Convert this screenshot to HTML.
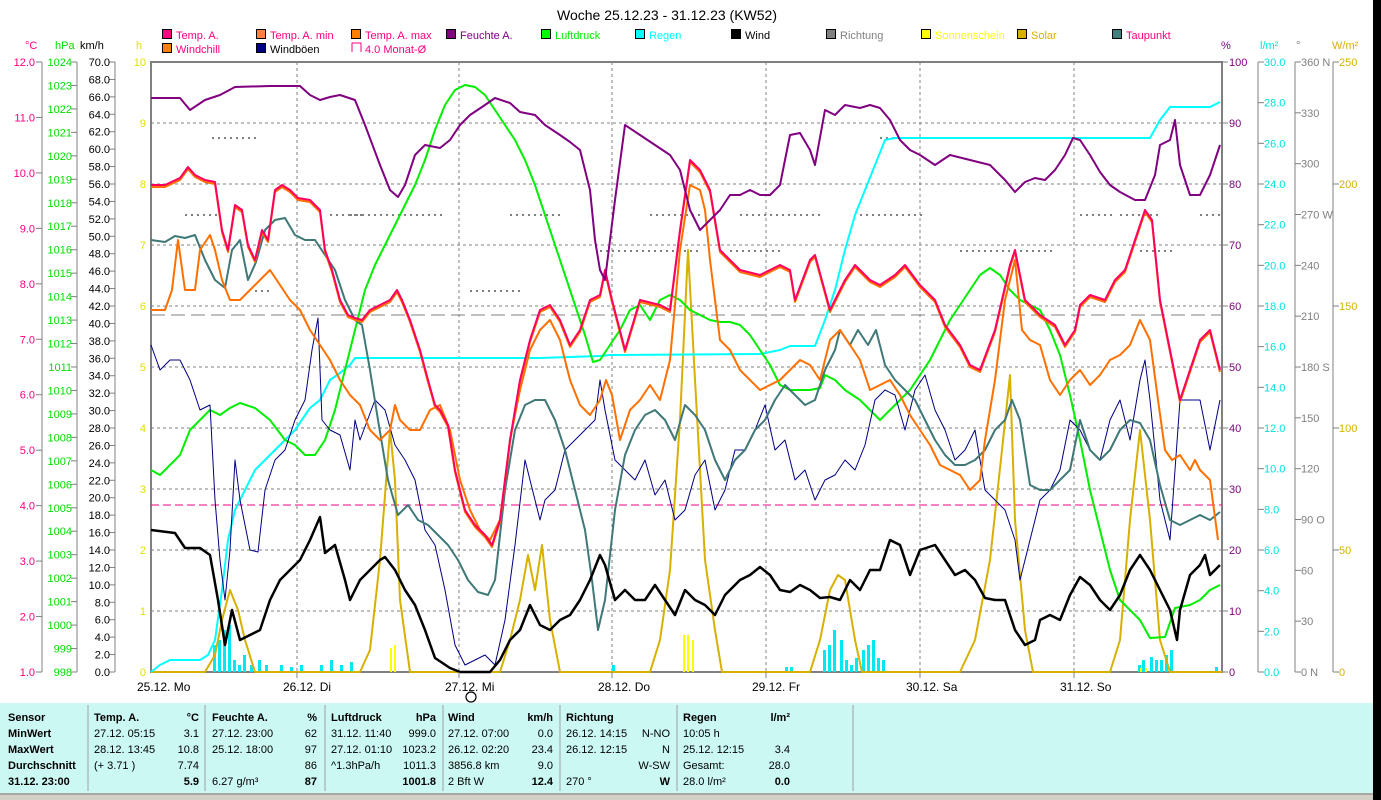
<!DOCTYPE html>
<html><head><meta charset="utf-8"><style>
body{margin:0;background:#fff;width:1381px;height:800px;overflow:hidden;font-family:"Liberation Sans",sans-serif}
svg text{font-family:"Liberation Sans",sans-serif}
</style></head><body>
<svg id="s" width="1381" height="800" xmlns="http://www.w3.org/2000/svg" style="position:absolute;left:0;top:0">
<rect x="1373" y="0" width="8" height="800" fill="#000"/>
<text x="667" y="20" font-size="14" text-anchor="middle" fill="#000">Woche 25.12.23 - 31.12.23 (KW52)</text>
<g id="grid"></g>
<g id="axes" font-size="11"></g>
<g id="legend" font-size="11"></g>
<!-- horizontal refs -->
<line x1="151" y1="505" x2="1222" y2="505" stroke="#ff0080" stroke-dasharray="8,4" stroke-width="1"/>
<line x1="151" y1="315" x2="1222" y2="315" stroke="#808080" stroke-dasharray="14,6" stroke-width="1"/>
<g id="dots" fill="#808080"></g>
<g id="bars"></g>
<g fill="none" stroke-linejoin="round">
<polyline id="solar" stroke="#d8b000" stroke-width="2" points="151,672 205,672 215,655 222,620 230,590 238,610 245,640 255,672 360,672 370,650 380,560 390,430 395,480 400,600 410,672 500,672 510,640 520,600 528,555 535,590 542,545 550,620 560,672 650,672 660,640 670,570 680,420 688,250 695,380 705,560 715,630 722,672 810,672 820,640 830,590 838,575 845,580 855,640 862,672 960,672 975,640 990,560 1002,450 1010,375 1015,520 1025,630 1033,672 1110,672 1120,640 1130,520 1140,430 1150,520 1160,640 1170,672 1222,672"/>
<polyline stroke="#00ffff" stroke-width="2" points="151,672 160,665 170,660 200,660 208,655 215,640 222,590 228,540 235,510 245,490 255,470 265,460 280,445 295,430 310,408 320,400 330,380 340,373 350,365 355,358 540,358 600,356 610,355 760,354 780,350 790,346 815,346 825,320 835,290 845,250 855,215 865,190 875,165 885,140 895,138 1150,138 1160,120 1170,107 1210,107 1220,102"/>
<polyline stroke="#00ee00" stroke-width="2" points="151,470 160,475 170,465 180,455 190,430 200,420 210,410 220,415 230,408 240,403 255,408 270,420 285,440 295,445 305,455 315,455 325,440 335,410 345,370 355,330 365,290 375,265 385,245 395,225 405,205 415,185 425,160 435,130 445,105 455,90 465,85 475,87 485,95 495,110 505,125 515,140 525,160 535,185 545,215 555,245 565,275 575,305 585,335 593,362 600,360 610,345 620,330 630,310 640,305 650,320 660,300 670,295 680,300 690,310 700,315 710,320 720,322 730,322 740,325 750,335 760,350 770,365 780,385 790,390 800,390 810,390 820,388 825,375 835,380 845,390 860,400 880,420 890,410 900,400 910,390 920,375 930,360 940,340 950,320 960,305 970,290 980,275 990,268 1000,275 1010,290 1020,300 1030,305 1040,310 1050,330 1060,355 1070,395 1080,440 1090,490 1100,530 1110,570 1120,600 1130,610 1140,620 1150,638 1165,637 1175,608 1190,605 1200,600 1210,590 1220,585"/>
<polyline stroke="#000080" stroke-width="1" points="151,345 160,370 170,360 180,360 190,380 200,410 210,405 215,500 220,560 225,600 230,550 235,460 240,500 250,550 258,552 265,490 275,460 285,450 295,420 305,400 312,350 318,318 322,420 330,430 340,435 350,470 355,420 360,440 375,400 385,410 395,445 405,460 415,480 425,530 435,545 445,590 455,645 465,665 475,660 485,655 495,665 505,620 515,545 525,460 535,500 540,520 545,500 555,490 565,450 575,440 585,430 595,420 600,380 605,410 615,460 625,470 635,480 645,460 655,495 665,480 675,520 685,510 695,475 705,460 715,510 725,490 735,450 745,450 755,430 765,405 775,450 785,440 795,480 805,470 815,500 825,480 835,475 845,460 855,470 865,445 875,400 885,390 895,395 905,430 915,390 925,375 935,410 945,430 955,460 965,450 975,430 985,490 995,500 1005,510 1015,540 1020,580 1030,540 1040,500 1050,490 1060,470 1070,420 1080,430 1090,450 1100,460 1110,420 1120,400 1130,440 1140,380 1145,360 1150,400 1160,500 1170,540 1180,400 1190,400 1200,400 1210,450 1220,400"/>
<polyline stroke="#407878" stroke-width="2" points="151,240 165,242 175,236 185,238 195,235 205,260 215,280 225,288 232,250 240,240 248,280 256,262 265,230 275,220 285,218 295,235 305,240 315,240 325,255 335,270 345,300 355,320 362,325 370,370 378,420 388,480 398,515 408,505 418,520 428,525 438,535 448,545 458,560 468,580 478,592 488,595 495,580 505,490 515,430 525,405 535,400 545,400 555,420 565,450 575,490 585,530 592,580 598,630 605,600 615,510 625,455 635,430 645,415 655,410 665,420 675,440 685,405 695,415 705,430 715,460 725,480 735,460 745,450 755,430 765,420 775,400 785,385 795,395 805,405 815,400 825,370 835,350 840,330 850,345 858,330 868,345 876,330 885,365 895,380 905,390 915,400 925,420 935,440 945,455 955,465 965,465 975,460 985,450 995,430 1005,420 1012,400 1020,420 1030,485 1040,490 1050,490 1060,480 1070,470 1080,420 1090,450 1100,460 1110,450 1120,430 1130,420 1140,423 1150,440 1160,485 1170,520 1180,525 1190,520 1200,515 1210,520 1220,512"/>
<polyline stroke="#ff7000" stroke-width="2" points="151,310 165,310 172,290 178,240 185,290 195,290 200,250 210,235 215,250 222,280 230,300 240,300 250,290 260,280 270,270 280,285 290,300 300,310 310,330 320,345 330,360 340,380 350,395 360,405 370,430 380,440 390,430 395,405 400,420 410,430 420,430 430,410 440,405 450,430 460,480 470,510 480,530 490,540 500,520 510,440 520,390 530,350 540,330 550,320 560,340 570,380 580,405 590,415 600,400 606,380 612,395 620,440 630,410 640,400 650,385 660,400 670,360 680,250 690,185 700,190 705,210 710,260 720,340 730,350 740,370 750,380 760,390 770,385 780,380 790,370 800,360 810,365 820,380 830,340 840,330 850,345 860,360 870,390 880,385 890,380 900,395 910,415 920,430 930,445 940,465 950,470 960,475 970,490 980,480 985,440 995,380 1005,300 1015,260 1022,330 1030,340 1040,345 1050,380 1060,395 1070,380 1080,370 1090,385 1100,375 1110,360 1120,355 1130,345 1140,320 1150,340 1158,400 1165,450 1172,460 1180,455 1190,470 1195,460 1200,470 1210,480 1218,540"/>
<polyline stroke="#ff7000" stroke-width="2" transform="translate(0,2)" points="151,185 165,185 180,178 188,167 195,175 205,180 215,182 222,230 228,250 235,205 242,210 248,245 255,260 262,230 268,240 275,190 282,185 290,190 298,198 310,200 320,210 325,250 332,270 340,300 348,315 355,318 362,320 370,310 380,305 390,300 397,290 402,300 410,320 420,350 428,380 435,405 440,410 448,425 455,470 465,510 475,525 485,535 492,545 500,520 510,440 520,380 530,340 540,310 550,305 560,320 570,345 580,330 590,300 600,295 605,270 612,300 625,350 640,300 660,305 670,310 680,230 690,160 700,170 710,190 720,250 740,270 760,275 780,265 790,270 795,300 810,260 815,255 830,310 845,280 855,265 870,280 880,285 895,275 905,265 920,285 935,300 945,325 960,345 970,365 980,370 995,330 1010,265 1015,250 1025,300 1040,315 1055,325 1065,345 1075,330 1080,305 1090,295 1105,300 1115,280 1125,270 1135,240 1145,210 1152,220 1160,300 1170,350 1180,400 1190,370 1200,340 1210,330 1220,370"/>
<polyline stroke="#ff0060" stroke-width="2" points="151,185 165,185 180,178 188,167 195,175 205,180 215,182 222,230 228,250 235,205 242,210 248,245 255,260 262,230 268,240 275,190 282,185 290,190 298,198 310,200 320,210 325,250 332,270 340,300 348,315 355,318 362,320 370,310 380,305 390,300 397,290 402,300 410,320 420,350 428,380 435,405 440,410 448,425 455,470 465,510 475,525 485,535 492,545 500,520 510,440 520,380 530,340 540,310 550,305 560,320 570,345 580,330 590,300 600,295 605,270 612,300 625,350 640,300 660,305 670,310 680,230 690,160 700,170 710,190 720,250 740,270 760,275 780,265 790,270 795,300 810,260 815,255 830,310 845,280 855,265 870,280 880,285 895,275 905,265 920,285 935,300 945,325 960,345 970,365 980,370 995,330 1010,265 1015,250 1025,300 1040,315 1055,325 1065,345 1075,330 1080,305 1090,295 1105,300 1115,280 1125,270 1135,240 1145,210 1152,220 1160,300 1170,350 1180,400 1190,370 1200,340 1210,330 1220,370"/>
<polyline stroke="#800080" stroke-width="2" points="151,98 180,98 190,110 205,100 220,95 235,87 270,86 300,86 310,95 320,100 330,97 340,95 355,100 365,125 380,165 390,190 398,197 405,185 415,155 425,145 440,148 450,140 460,125 470,115 485,105 495,98 510,103 520,112 535,115 545,125 560,135 570,142 580,150 590,190 595,240 600,270 605,280 615,200 625,125 640,135 655,145 670,155 680,170 690,210 700,230 710,220 720,210 730,195 740,195 750,190 760,195 770,195 780,185 790,135 800,133 810,150 815,165 825,110 835,115 845,105 860,108 870,105 880,108 890,120 900,140 910,150 920,155 935,165 950,155 970,160 990,165 1005,180 1015,192 1025,182 1035,178 1045,180 1055,170 1065,155 1073,138 1080,140 1090,155 1100,172 1110,185 1120,192 1135,200 1145,200 1155,175 1160,145 1170,140 1175,120 1180,165 1190,195 1200,195 1210,175 1220,145"/>
<polyline stroke="#000" stroke-width="2.5" points="151,530 175,533 185,548 200,548 210,555 218,600 225,645 232,610 240,640 250,635 260,630 270,600 280,580 290,570 300,560 310,540 320,517 325,553 335,545 345,580 350,600 360,580 370,570 380,560 385,557 395,570 405,590 415,605 425,630 435,658 450,668 460,672 490,672 500,660 510,640 520,630 530,605 540,625 550,630 560,620 570,615 580,600 590,580 600,555 605,565 615,600 625,590 635,600 645,600 655,585 665,600 675,615 685,590 695,600 705,605 715,615 725,595 740,580 750,575 760,567 770,575 780,590 790,592 800,585 810,590 820,598 830,597 840,600 850,580 860,590 870,570 880,570 890,540 900,545 910,575 920,550 935,545 945,560 955,575 965,570 975,580 985,598 995,600 1005,600 1015,630 1025,645 1035,640 1040,620 1050,615 1060,620 1070,595 1080,577 1090,585 1100,600 1110,610 1120,595 1130,570 1140,555 1150,570 1160,590 1170,610 1177,640 1180,610 1190,575 1200,565 1205,555 1210,575 1220,565"/>
</g>
<circle cx="471" cy="697" r="5" fill="none" stroke="#000" stroke-width="1.2"/>
<g id="xl" font-size="12"></g>
<!-- table -->
<rect x="0" y="703" width="1373" height="90" fill="#ccf8f4"/>
<rect x="0" y="793" width="1373" height="7" fill="#d4d0c8"/>
<line x1="0" y1="794" x2="1373" y2="794" stroke="#808080"/>
<g id="tbl" font-size="11"></g>
</svg>
<script>
const NS="http://www.w3.org/2000/svg";
function el(p,t,a,txt){const e=document.createElementNS(NS,t);for(const k in a)e.setAttribute(k,a[k]);if(txt!==undefined)e.textContent=txt;document.getElementById(p).appendChild(e);return e;}
const T=62,B=672,L=151,R=1222,H=B-T;
// grid
for(let i=1;i<10;i++){const y=T+H*i/10;el('grid','line',{x1:L,x2:R,y1:y,y2:y,stroke:'#808080','stroke-dasharray':'3,3'});}
const dx=[151,297,459,612,766,920,1074];
for(let i=1;i<7;i++)el('grid','line',{x1:dx[i],x2:dx[i],y1:T,y2:B,stroke:'#808080','stroke-dasharray':'3,3'});
el('grid','rect',{x:L,y:T,width:R-L,height:H,fill:'none',stroke:'#808080','stroke-width':2});
// axes
function axis(lineX,n,lab,col,side,labX,anchor){
 el('axes','line',{x1:lineX,x2:lineX,y1:T,y2:B,stroke:'#808080'});
 for(let i=0;i<=n;i++){const y=B-H*i/n;
  el('axes','line',{x1:side<0?lineX-6:lineX,x2:side<0?lineX:lineX+6,y1:y,y2:y,stroke:'#808080'});
  const s=lab(i); if(s!==null) el('axes','text',{x:labX,y:y+4,fill:col,'text-anchor':anchor},s);}
}
axis(42,11,i=>(1+i).toFixed(1),'#ff0080',-1,35,'end');
axis(77,26,i=>String(998+i),'#00dd00',-1,72,'end');
axis(115,35,i=>(2*i).toFixed(1),'#000',-1,110,'end');
for(let i=0;i<=10;i++){const y=B-H*i/10;el('axes','text',{x:146,y:y+4,fill:'#e0e000','text-anchor':'end'},String(i));}
for(let i=0;i<=10;i++){const y=B-H*i/10;el('axes','line',{x1:R,x2:R+6,y1:y,y2:y,stroke:'#808080'});el('axes','text',{x:R+7,y:y+4,fill:'#800080'},String(i*10));}
axis(1258,15,i=>(2*i).toFixed(1),'#00e0e0',1,1264,'start');
const dir={0:'N',3:'O',6:'S',9:'W',12:'N'};
axis(1295,12,i=>String(30*i)+(dir[i]!==undefined?'  '+dir[i]:''),'#808080',1,1301,'start');
axis(1333,5,i=>String(50*i),'#d8b000',1,1339,'start');
// unit labels
[[25,'°C','#ff0080'],[55,'hPa','#00dd00'],[80,'km/h','#000'],[136,'h','#e0e000'],[1221,'%','#800080'],[1260,'l/m²','#00e0e0'],[1296,'°','#808080'],[1332,'W/m²','#d8b000']].forEach(a=>el('axes','text',{x:a[0],y:49,fill:a[2]},a[1]));
// legend
const lg=[[163,38,'Temp. A.','#ff0080','#ff0080'],[257,38,'Temp. A. min','#ff8040','#ff0080'],[352,38,'Temp. A. max','#ff8000','#ff0080'],[447,38,'Feuchte A.','#800080','#800080'],[542,38,'Luftdruck','#00ff00','#00ee00'],[636,38,'Regen','#00ffff','#00ffff'],[732,38,'Wind','#000','#000'],[827,38,'Richtung','#808080','#808080'],[922,38,'Sonnenschein','#ffff00','#ffff00'],[1018,38,'Solar','#d8b000','#d8b000'],[1113,38,'Taupunkt','#408080','#ff0080'],[163,52,'Windchill','#ff8000','#ff0080'],[257,52,'Windböen','#000080','#000']];
lg.forEach(a=>{el('legend','rect',{x:a[0]-0.5,y:a[1]-8.5,width:9,height:9,fill:a[3],stroke:'#000'});el('legend','text',{x:a[0]+13,y:a[1]+1,fill:a[4]},a[2]);});
el('legend','path',{d:'M352,52 V43 H361 V52',fill:'none',stroke:'#ff0080'});el('legend','text',{x:365,y:53,fill:'#ff0080'},'4.0 Monat-Ø');
// x labels
const xl=['25.12.  Mo','26.12.  Di','27.12.  Mi','28.12.  Do','29.12.  Fr','30.12.  Sa','31.12.  So'];
xl.forEach((s,i)=>{el('xl','text',{x:dx[i]-14,y:691,fill:'#000'},s); if(i>0)el('xl','line',{x1:dx[i],x2:dx[i],y1:672,y2:678,stroke:'#808080'});});
// direction dots
[[185,214,215,1],[212,137,255,1],[330,214,360,1],[255,290,270,1],[350,214,440,1],[470,290,520,1],[510,214,560,1],[600,250,700,1],[650,214,700,1],[740,214,820,1],[860,214,920,1],[960,250,1050,1],[1080,214,1110,1],[1120,214,1160,1],[1140,250,1170,1],[1200,214,1220,1],[730,250,780,1],[880,137,930,1]].forEach(a=>{for(let x=a[0];x<=a[2];x+=6)el('dots','rect',{x:x,y:a[1],width:2,height:2});});
// rain bars
[[213,645],[218,640],[223,630],[228,625],[233,660],[238,665],[243,655],[250,665],[258,660],[265,665],[280,665],[290,667],[300,665],[320,665],[330,660],[340,665],[350,662],[612,665],[785,667],[790,667],[823,650],[828,645],[833,630],[840,640],[845,660],[850,665],[855,658],[862,650],[867,645],[872,640],[877,658],[882,660],[1138,665],[1142,660],[1150,657],[1155,660],[1160,660],[1165,655],[1170,650],[1215,667]].forEach(a=>el('bars','rect',{x:a[0],y:a[1],width:3,height:672-a[1],fill:'#00e8f0'}));
[[390,648],[394,645],[683,635],[687,635],[692,640],[1140,668],[1145,668]].forEach(a=>el('bars','rect',{x:a[0],y:a[1],width:2,height:672-a[1],fill:'#ffff00'}));
// table
[88,205,325,443,560,677,853].forEach(x=>{el('tbl','line',{x1:x,x2:x,y1:705,y2:791,stroke:'#a0a0a0'});});
const rows=[717,733,749,765,781];
function t(x,y,s,b,anchor){el('tbl','text',{x:x,y:y+4,'font-weight':b?'bold':'normal','text-anchor':anchor||'start',fill:'#000'},s);}
['Sensor','MinWert','MaxWert','Durchschnitt','31.12. 23:00'].forEach((s,i)=>t(8,rows[i],s,true));
const cols=[
 [94,199,[['Temp. A.','°C',1],['27.12.  05:15','3.1'],['28.12.  13:45','10.8'],['  (+ 3.71 )','7.74'],['','5.9',1]]],
 [212,317,[['Feuchte A.','%',1],['27.12.  23:00','62'],['25.12.  18:00','97'],['','86'],['6.27 g/m³','87',1]]],
 [331,436,[['Luftdruck','hPa',1],['31.12.  11:40','999.0'],['27.12.  01:10','1023.2'],['^1.3hPa/h','1011.3'],['','1001.8',1]]],
 [448,553,[['Wind','km/h',1],['27.12.  07:00','0.0'],['26.12.  02:20','23.4'],['3856.8 km','9.0'],[' 2 Bft W','12.4',1]]],
 [566,670,[['Richtung','',1],['26.12.  14:15','N-NO'],['26.12.  12:15','N'],['','W-SW'],['270 °','W',1]]],
 [683,790,[['Regen','l/m²',1],['10:05 h',''],['25.12.  12:15','3.4'],['Gesamt:','28.0'],[' 28.0 l/m²','0.0',1]]]
];
cols.forEach(c=>c[2].forEach((r,i)=>{t(c[0],rows[i],r[0],i==0);t(c[1],rows[i],r[1],!!r[2],'end');}));
</script>
</body></html>
